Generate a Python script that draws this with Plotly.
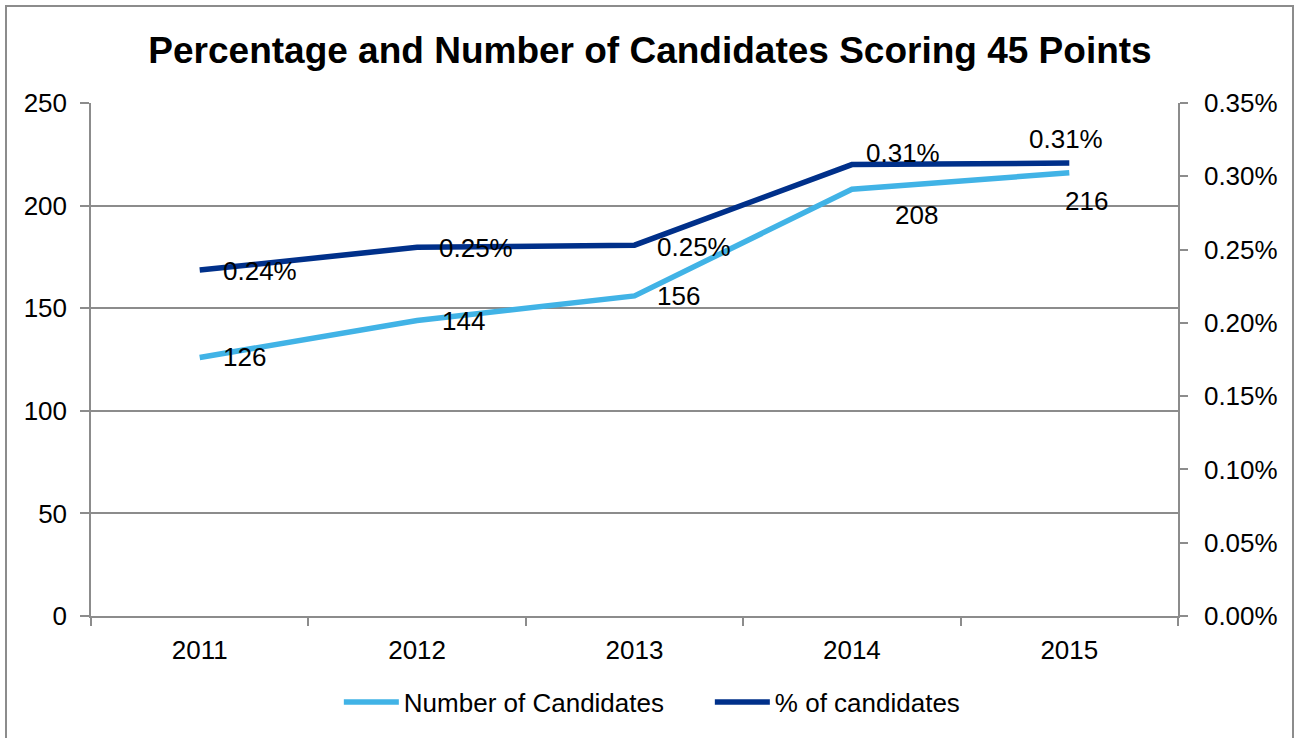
import plotly.graph_objects as go

# ---- data ----
years = ["2011", "2012", "2013", "2014", "2015"]
num_candidates = [126, 144, 156, 208, 216]
pct_candidates = [0.00236, 0.002515, 0.00253, 0.00308, 0.00309]
num_labels = ["126", "144", "156", "208", "216"]
pct_labels = ["0.24%", "0.25%", "0.25%", "0.31%", "0.31%"]
left_ticks = [0, 50, 100, 150, 200, 250]
right_ticks = [0, 0.0005, 0.001, 0.0015, 0.002, 0.0025, 0.003, 0.0035]

# label offsets (style: pixel shifts of the data labels relative to their point)
num_label_shift = [(21, 0), (23, 0), (20, 0), (41, -26), (-6, -28)]
pct_label_shift = [(21, -1), (20, -1), (20, -2), (12, 12), (-42, 24)]

LIGHT = "#41B3E6"
DARK = "#00308A"
GRAY = "#8C8C8C"
FONT = "Liberation Sans, Arial, sans-serif"
FS = 26

fig = go.Figure()
fig.add_trace(go.Scatter(x=years, y=num_candidates, mode="lines", name="Number of Candidates",
                         line=dict(color=LIGHT, width=5.5)))
fig.add_trace(go.Scatter(x=years, y=pct_candidates, mode="lines", name="% of candidates",
                         line=dict(color=DARK, width=5.5), yaxis="y2"))

annotations = []
for i, (y, t, (dx, dy)) in enumerate(zip(num_candidates, num_labels, num_label_shift)):
    annotations.append(dict(x=i, y=y, xref="x", yref="y", text=t, showarrow=False,
                            xanchor="left", yanchor="middle", xshift=dx, yshift=dy,
                            font=dict(family=FONT, size=FS, color="#000000")))
for i, (y, t, (dx, dy)) in enumerate(zip(pct_candidates, pct_labels, pct_label_shift)):
    annotations.append(dict(x=i, y=y, xref="x", yref="y2", text=t, showarrow=False,
                            xanchor="left", yanchor="middle", xshift=dx, yshift=dy,
                            font=dict(family=FONT, size=FS, color="#000000")))

fig.update_layout(
    width=1297, height=738,
    margin=dict(l=91, r=119, t=103, b=122),
    paper_bgcolor="white", plot_bgcolor="white",
    font=dict(family=FONT, size=FS, color="#000000"),
    title=dict(text="<b>Percentage and Number of Candidates Scoring 45 Points</b>",
               x=(650 - 91) / 1087, xanchor="center", xref="paper", y=1 - 50 / 738,
               yanchor="middle", font=dict(family=FONT, size=37, color="#000000")),
    xaxis=dict(type="category", range=[-0.5, 4.5], tickson="boundaries", ticks="outside",
               ticklen=8, tickcolor=GRAY, tickwidth=1.5, showline=True, linecolor=GRAY,
               linewidth=1.5, showgrid=False, ticklabelstandoff=10, zeroline=False),
    yaxis=dict(range=[0, 250], tickvals=left_ticks, ticks="outside", ticklen=9, tickcolor=GRAY,
               tickwidth=1.5, showline=True, linecolor=GRAY, linewidth=1.5, showgrid=True,
               gridcolor=GRAY, gridwidth=1.5, zeroline=False, ticklabelstandoff=8),
    yaxis2=dict(range=[0, 0.0035], tickvals=right_ticks, tickformat=".2%", overlaying="y",
                side="right", ticks="outside", ticklen=8, tickcolor=GRAY, tickwidth=1.5,
                showline=True, linecolor=GRAY, linewidth=1.5, showgrid=False, zeroline=False,
                ticklabelstandoff=11),
    legend=dict(orientation="h", x=0.228, xanchor="left", y=-0.168, yanchor="middle",
                entrywidth=301, entrywidthmode="pixels", itemwidth=55,
                font=dict(family=FONT, size=FS), bgcolor="rgba(0,0,0,0)"),
    annotations=annotations,
    shapes=[dict(type="rect", xref="paper", yref="paper",
                 x0=(6 - 91) / 1087, x1=(1293 - 91) / 1087,
                 y0=(616 - 760) / 513, y1=(616 - 6) / 513,
                 line=dict(color=GRAY, width=2), fillcolor="rgba(0,0,0,0)", layer="below")],
)

fig.write_html("out.html", config={"displayModeBar": False},
               post_script="document.body.style.margin='0';")
